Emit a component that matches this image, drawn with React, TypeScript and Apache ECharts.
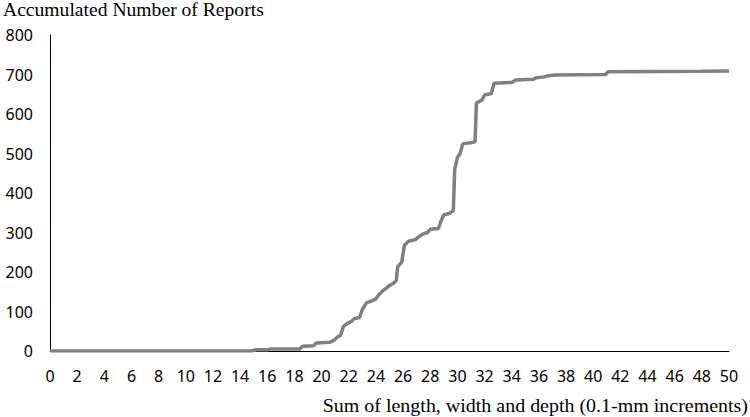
import React, { useEffect, useRef } from "react";
import * as echarts from "echarts";

const sizeSum: number[] = [0, 14.8, 15.2, 16.0, 16.2, 18.4, 18.6, 19.4, 19.6, 20.6, 20.9, 21.2, 21.4, 21.6, 21.9, 22.2, 22.4, 22.8, 23.0, 23.3, 23.7, 24.0, 24.2, 24.5, 24.8, 25.0, 25.3, 25.5, 25.6, 25.9, 26.1, 26.4, 26.9, 27.1, 27.4, 27.8, 28.0, 28.6, 28.8, 29.0, 29.4, 29.7, 29.8, 30.0, 30.2, 30.4, 31.0, 31.3, 31.4, 31.8, 32.0, 32.5, 32.7, 34.0, 34.3, 35.6, 35.8, 36.4, 36.7, 37.2, 40.9, 41.1, 48.0, 50.0];
const accumulated: number[] = [0, 0, 3, 3, 5, 5, 12, 13, 20, 22, 27, 36, 40, 62, 70, 75, 82, 85, 105, 122, 127, 132, 142, 152, 160, 166, 172, 178, 213, 225, 268, 278, 282, 288, 295, 300, 308, 310, 330, 345, 348, 355, 460, 490, 500, 525, 527, 530, 628, 635, 648, 652, 678, 680, 686, 688, 692, 694, 697, 699, 700, 707, 708, 709];

const yAxisTitle = "Accumulated Number of Reports";
const xAxisTitle = "Sum of length, width and depth (0.1-mm increments)";

export default function App() {
  const ref = useRef<HTMLDivElement>(null);
  useEffect(() => {
    if (!ref.current) return;
    const chart = echarts.init(ref.current, null, { renderer: "svg" });
    const data = sizeSum.map((x, i) => [x, accumulated[i]]);
    chart.setOption({
      animation: false,
      backgroundColor: "#ffffff",
      grid: { left: 50, right: 21, top: 35, bottom: 66, containLabel: false },
      graphic: [
        {
          type: "text",
          x: 3,
          y: 1,
          scaleX: 1.09,
          style: { text: yAxisTitle, font: "18px 'Liberation Serif'", fill: "#000", textAlign: "left", textVerticalAlign: "top" },
        },
        {
          type: "text",
          x: 748,
          y: 397,
          scaleX: 1.11,
          style: { text: xAxisTitle, font: "18px 'Liberation Serif'", fill: "#000", textAlign: "right", textVerticalAlign: "top" },
        },
      ],
      xAxis: {
        type: "value",
        min: 0,
        max: 50,
        interval: 2,
        axisLine: { show: true, onZero: false, lineStyle: { color: "#000", width: 1 } },
        axisTick: { show: false },
        splitLine: { show: false },
        axisLabel: { color: "#000", fontSize: 16, fontFamily: "Noto Sans", margin: 17 },
      },
      yAxis: {
        type: "value",
        min: 0,
        max: 800,
        interval: 100,
        axisLine: { show: true, lineStyle: { color: "#000", width: 1 } },
        axisTick: { show: false },
        splitLine: { show: false },
        axisLabel: { color: "#000", fontSize: 16, fontFamily: "Noto Sans", margin: 17 },
      },
      series: [
        {
          type: "line",
          data,
          showSymbol: false,
          lineStyle: { color: "#808080", width: 3.5 },
        },
      ],
    });
    return () => chart.dispose();
  }, []);
  return <div ref={ref} style={{ width: 750, height: 417, position: "absolute", left: 0, top: 0 }} />;
}
